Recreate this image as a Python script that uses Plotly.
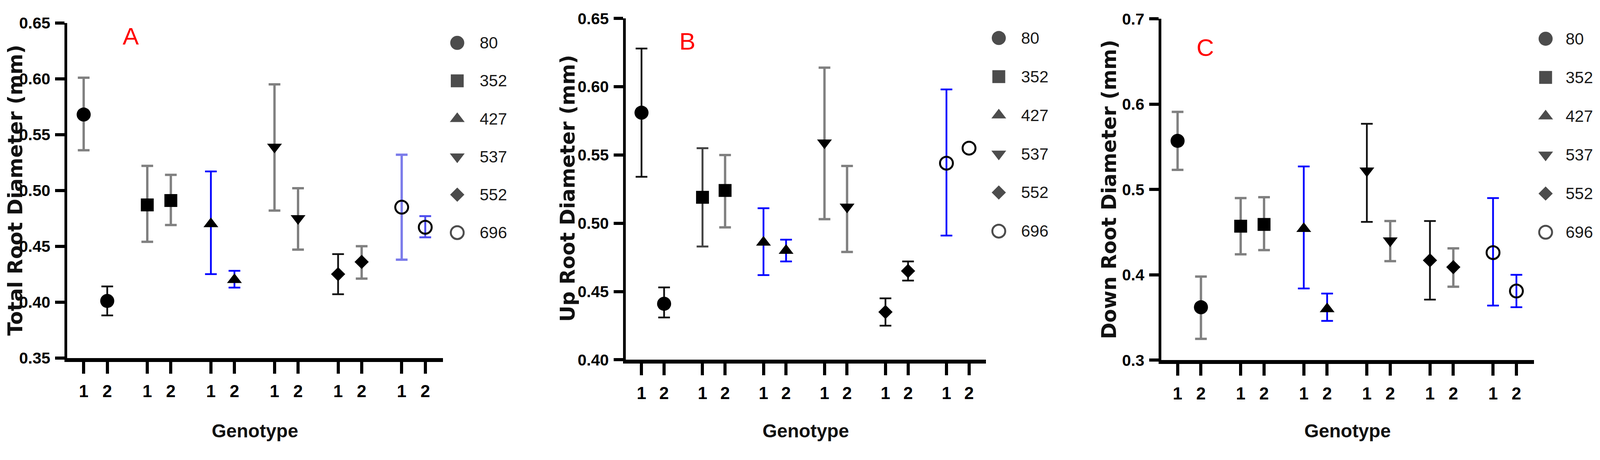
import plotly.graph_objects as go

# Reference page size; the body keeps its default 8 px margin, so the figure fills the rest.
PAGE_W, PAGE_H, BODY = 4245, 1178, 8
W, H = PAGE_W - 2 * BODY, PAGE_H - 2 * BODY

# ---------------- data ----------------
genotypes = ["80", "352", "427", "537", "552", "696"]
replicates = ["1", "2"]
panel_letters = ["A", "B", "C"]
y_titles = ["Total Root Diameter (mm)", "Up Root Diameter (mm)", "Down Root Diameter (mm)"]
x_title = "Genotype"

# order: 80-1, 80-2, 352-1, 352-2, 427-1, 427-2, 537-1, 537-2, 552-1, 552-2, 696-1, 696-2
total_mean = [0.568, 0.401, 0.487, 0.491, 0.470, 0.420, 0.539, 0.475, 0.425, 0.436, 0.485, 0.467]
total_err_hi = [0.033, 0.013, 0.035, 0.023, 0.047, 0.008, 0.056, 0.027, 0.018, 0.014, 0.047, 0.010]
total_err_lo = [0.032, 0.013, 0.033, 0.022, 0.045, 0.007, 0.057, 0.028, 0.018, 0.015, 0.047, 0.009]

up_mean = [0.581, 0.441, 0.519, 0.524, 0.486, 0.480, 0.559, 0.512, 0.435, 0.465, 0.544, 0.555]
up_err_hi = [0.047, 0.012, 0.036, 0.026, 0.025, 0.008, 0.055, 0.030, 0.010, 0.007, 0.054, 0.0]
up_err_lo = [0.047, 0.010, 0.036, 0.027, 0.024, 0.008, 0.056, 0.033, 0.010, 0.007, 0.053, 0.0]

down_mean = [0.557, 0.362, 0.457, 0.459, 0.454, 0.360, 0.522, 0.440, 0.417, 0.409, 0.426, 0.381]
down_err_hi = [0.034, 0.036, 0.033, 0.032, 0.073, 0.018, 0.055, 0.023, 0.046, 0.022, 0.064, 0.019]
down_err_lo = [0.034, 0.037, 0.033, 0.030, 0.070, 0.014, 0.060, 0.024, 0.046, 0.023, 0.062, 0.019]

y_ranges = [(0.35, 0.65), (0.40, 0.65), (0.3, 0.7)]
y_dticks = [0.05, 0.05, 0.1]
y_formats = [".2f", ".2f", ".1f"]

# ---------------- styles ----------------
GRAY, BLACK, DGRAY = "#808080", "#111111", "#444444"
BLUE, LBLUE, MBLUE = "#0000ff", "#7b7bea", "#4f4fee"
err_colors = [
    [GRAY, BLACK, GRAY, GRAY, BLUE, BLUE, GRAY, GRAY, BLACK, GRAY, LBLUE, MBLUE],
    [BLACK, BLACK, DGRAY, GRAY, BLUE, BLUE, GRAY, GRAY, BLACK, BLACK, BLUE, BLUE],
    [GRAY, GRAY, GRAY, GRAY, BLUE, BLUE, BLACK, GRAY, BLACK, GRAY, BLUE, BLUE],
]
err_thick = {GRAY: 6, BLACK: 4.5, DGRAY: 5, BLUE: 4.5, LBLUE: 6, MBLUE: 5}
symbols = ["circle", "square", "triangle-up", "triangle-down", "diamond", "circle-open"]
sizes = [36, 33, 33, 33, 28, 33]

FONT = "Liberation Sans, Arial, sans-serif"
BOLDWIDE = "DejaVu Sans, Liberation Sans, sans-serif"

# pixel geometry of each panel, in page pixels
geom = [
    dict(x0=178, x1=1175, yt=37, yb=930, mx=1213, tx=1270, ly0=90, lstep=101.2,
         lab=(347, 72), ytx=8, yty=483),
    dict(x0=1660, x1=2616, yt=25, yb=935, mx=2650, tx=2707, ly0=77, lstep=103.0,
         lab=(1823, 86), ytx=1474, yty=478),
    dict(x0=3081, x1=4070, yt=26, yb=936, mx=4101, tx=4152, ly0=79, lstep=103.2,
         lab=(3198, 102), ytx=2910, yty=481),
]


def fx(px):  # page x pixel -> paper fraction
    return (px - BODY) / W


def fy(py):  # page y pixel (from top) -> paper fraction (from bottom)
    return 1 - (py - BODY) / H


GROUP_STEP = 2.7
x_pos = [g * GROUP_STEP + r for g in range(len(genotypes)) for r in range(len(replicates))]
x_text = [r for g in genotypes for r in replicates]

datasets = [
    (total_mean, total_err_hi, total_err_lo),
    (up_mean, up_err_hi, up_err_lo),
    (down_mean, down_err_hi, down_err_lo),
]

fig = go.Figure()
layout = dict(
    autosize=True, margin=dict(l=0, r=0, t=0, b=0),
    paper_bgcolor="white", plot_bgcolor="rgba(0,0,0,0)", showlegend=False,
    annotations=[],
)

for p, (means, ehi, elo) in enumerate(datasets):
    g = geom[p]
    sfx = "" if p == 0 else str(p + 1)
    xa, ya = "x" + sfx, "y" + sfx
    for i in range(len(means)):
        gi = i // 2
        col = err_colors[p][i]
        fig.add_trace(go.Scatter(
            x=[x_pos[i]], y=[means[i]], xaxis=xa, yaxis=ya, mode="markers",
            marker=dict(symbol=symbols[gi], size=sizes[gi], color="black",
                        line=dict(color="black", width=5 if symbols[gi] == "circle-open" else 0)),
            error_y=dict(type="data", symmetric=False, array=[ehi[i]], arrayminus=[elo[i]],
                         color=col, thickness=err_thick[col], width=15,
                         visible=(ehi[i] + elo[i]) > 0),
            cliponaxis=False,
        ))
    layout["xaxis" + sfx] = dict(
        domain=[fx(g["x0"]), fx(g["x1"])], anchor=ya,
        range=[-0.7, 15.25], tickvals=x_pos, ticktext=x_text,
        showgrid=False, zeroline=False, showline=True, linecolor="black", linewidth=10,
        ticks="outside", ticklen=30, tickwidth=8, tickcolor="black",
        ticklabelstandoff=8,
        tickfont=dict(family=FONT, size=44, color="black", weight="bold"),
    )
    layout["yaxis" + sfx] = dict(
        domain=[fy(g["yb"]), fy(g["yt"])], anchor=xa,
        range=list(y_ranges[p]), dtick=y_dticks[p], tick0=y_ranges[p][0], tickformat=y_formats[p],
        showgrid=False, zeroline=False, showline=True, linecolor="black", linewidth=7,
        ticks="outside", ticklen=24, tickwidth=8, tickcolor="black",
        ticklabelstandoff=4,
        tickfont=dict(family=FONT, size=41, color="black", weight="bold"),
    )

    # legend drawn on hidden axes (index -> row)
    lsfx = str(p + 4)
    d0 = fx(g["mx"] - 40)
    d1 = min(1.0, fx(g["mx"] + 200))
    layout["xaxis" + lsfx] = dict(domain=[d0, d1], anchor="y" + lsfx,
                                  range=[-40, (d1 - d0) * W - 40], visible=False)
    top_v = (g["ly0"] - BODY) / g["lstep"]
    layout["yaxis" + lsfx] = dict(domain=[0, 1], anchor="x" + lsfx,
                                  range=[top_v - H / g["lstep"], top_v], visible=False)
    idx = list(range(len(genotypes)))
    fig.add_trace(go.Scatter(
        x=[0] * len(genotypes), y=[-k for k in idx], xaxis="x" + lsfx, yaxis="y" + lsfx,
        mode="markers",
        marker=dict(symbol=symbols, size=sizes, color="black",
                    line=dict(color="black", width=[5 if s == "circle-open" else 0 for s in symbols])),
        cliponaxis=False,
    ))
    for k, name in enumerate(genotypes):
        layout["annotations"].append(dict(
            x=g["tx"] - g["mx"], y=-k, xref="x" + lsfx, yref="y" + lsfx,
            text=name, showarrow=False, xanchor="left", yanchor="middle",
            font=dict(family=FONT, size=42, color="#1a1a1a"),
        ))

    # panel letter
    layout["annotations"].append(dict(
        x=fx(g["lab"][0]), y=fy(g["lab"][1]), xref="paper", yref="paper",
        text=panel_letters[p], showarrow=False, xanchor="center", yanchor="middle",
        font=dict(family=FONT, size=62, color="red"),
    ))
    # y title (left edge of its box at ytx)
    layout["annotations"].append(dict(
        x=fx(g["ytx"]), y=fy(g["yty"]), xref="paper", yref="paper",
        text=y_titles[p], showarrow=False, textangle=-90, xanchor="left", yanchor="middle",
        font=dict(family=BOLDWIDE, size=51, color="#111111", weight="bold"),
    ))
    # x title
    layout["annotations"].append(dict(
        x=fx((g["x0"] + g["x1"]) / 2), y=fy(1125), xref="paper", yref="paper",
        text=x_title, showarrow=False, xanchor="center", yanchor="middle",
        font=dict(family=FONT, size=48, color="#111111", weight="bold"),
    ))

fig.update_layout(**layout)
fig.write_html("out.html", default_width="calc(100vw - 16px)", default_height="calc(100vh - 16px)")
